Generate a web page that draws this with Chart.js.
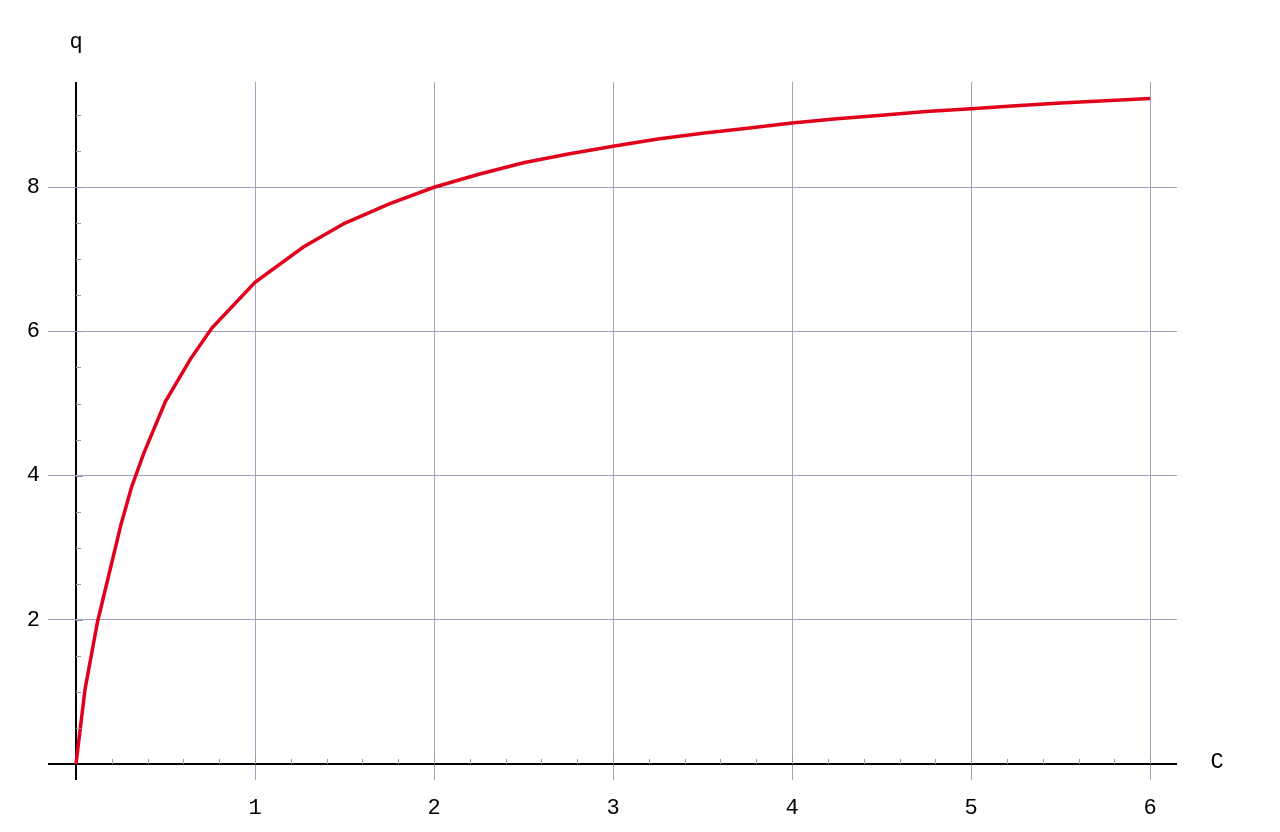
<!DOCTYPE html>
<html>
<head>
<meta charset="utf-8">
<script src="https://cdn.jsdelivr.net/npm/chart.js@4"></script>
<style>
  html, body { margin: 0; padding: 0; background: #fff; }
  #wrap { width: 1280px; height: 832px; }
</style>
</head>
<body>
<div id="wrap"><canvas id="chart"></canvas></div>
<script>
// concentration C and loading q
const concentration = [0, 0.05, 0.12, 0.25, 0.31, 0.38, 0.5, 0.64, 0.76, 1, 1.27, 1.5, 1.75, 2,
  2.25, 2.5, 2.75, 3, 3.25, 3.5, 3.75, 4, 4.25, 4.5, 4.75, 5, 5.25, 5.5, 5.75, 6]
const loading = [0, 1.03, 1.97, 3.31, 3.84, 4.32, 5.03, 5.62, 6.05, 6.68, 7.17, 7.5, 7.77, 8.0,
  8.18, 8.34, 8.46, 8.57, 8.67, 8.75, 8.82, 8.89, 8.95, 9.0, 9.05, 9.09, 9.13, 9.17, 9.2, 9.23]

const xTicks = [0, 1, 2, 3, 4, 5, 6]
const yTicks = [0, 2, 4, 6, 8]
const xRange = [0, 6.15]
const yRange = [0, 9.46]
const xMinorStep = 0.2
const yMinorStep = 0.5

const FONT = '"Liberation Mono", "DejaVu Sans Mono", monospace'
const gridColor = '#a3a3bd'
const axisColor = '#000'

const points = concentration.map((c, i) => ({ x: c, y: loading[i] }))

// minor tick marks and the axis names, drawn after the scales
const axisExtras = {
  id: 'axisExtras',
  afterDatasetsDraw(chart) {
    const { ctx, scales: { x, y } } = chart
    const x0 = x.getPixelForValue(0)
    const y0 = y.getPixelForValue(0)
    ctx.save()
    ctx.lineWidth = 1
    ctx.strokeStyle = '#999'
    for (let v = xMinorStep; v < xRange[1]; v += xMinorStep) {
      const px = Math.round(x.getPixelForValue(v)) + 0.5
      const major = Math.abs(v - Math.round(v)) < 1e-6
      ctx.beginPath()
      ctx.moveTo(px, y0)
      ctx.lineTo(px, y0 - (major ? 7 : 5))
      ctx.stroke()
    }
    for (let v = yMinorStep; v < yRange[1]; v += yMinorStep) {
      const py = Math.round(y.getPixelForValue(v)) + 0.5
      const major = yTicks.includes(v)
      ctx.beginPath()
      ctx.moveTo(x0, py)
      ctx.lineTo(x0 + (major ? 7 : 5), py)
      ctx.stroke()
    }
    ctx.fillStyle = '#000'
    ctx.font = '22px ' + FONT
    ctx.textAlign = 'center'
    ctx.textBaseline = 'middle'
    ctx.fillText('q', x0, chart.chartArea.top - 40)
    ctx.fillText('C', chart.chartArea.right + 40, y0 - 2)
    ctx.restore()
  }
}

new Chart(document.getElementById('chart'), {
  type: 'scatter',
  data: {
    datasets: [{
      label: 'q',
      data: points,
      showLine: true,
      borderColor: 'rgb(225, 0, 28)',
      borderWidth: 3.5,
      pointRadius: 0,
      tension: 0,
      clip: false
    }]
  },
  options: {
    responsive: true,
    maintainAspectRatio: false,
    animation: false,
    layout: { padding: { top: 82, right: 103, left: 0, bottom: 0 } },
    plugins: {
      legend: { display: false },
      tooltip: { enabled: false }
    },
    scales: {
      x: {
        type: 'linear',
        min: xRange[0],
        max: xRange[1],
        afterBuildTicks: scale => { scale.ticks = xTicks.map(v => ({ value: v })) },
        afterFit: scale => { scale.height = 68 },
        border: { display: false },
        grid: {
          color: c => c.tick && c.tick.value === 0 ? axisColor : gridColor,
          tickColor: c => c.tick && c.tick.value === 0 ? axisColor : gridColor,
          lineWidth: c => c.tick && c.tick.value === 0 ? 2 : 1,
          tickWidth: c => c.tick && c.tick.value === 0 ? 2 : 1,
          tickLength: 16
        },
        ticks: {
          padding: 15,
          maxRotation: 0,
          color: '#000',
          font: { family: FONT, size: 22 },
          callback: v => v === 0 ? '' : String(v)
        }
      },
      y: {
        type: 'linear',
        min: yRange[0],
        max: yRange[1],
        afterBuildTicks: scale => { scale.ticks = yTicks.map(v => ({ value: v })) },
        afterFit: scale => { scale.width = 76 },
        border: { display: false },
        grid: {
          color: c => c.tick && c.tick.value === 0 ? axisColor : gridColor,
          tickColor: c => c.tick && c.tick.value === 0 ? axisColor : gridColor,
          lineWidth: c => c.tick && c.tick.value === 0 ? 2 : 1,
          tickWidth: c => c.tick && c.tick.value === 0 ? 2 : 1,
          tickLength: 28
        },
        ticks: {
          padding: 8,
          color: '#000',
          font: { family: FONT, size: 22 },
          callback: v => v === 0 ? '' : String(v)
        }
      }
    }
  },
  plugins: [axisExtras]
})
</script>
</body>
</html>
